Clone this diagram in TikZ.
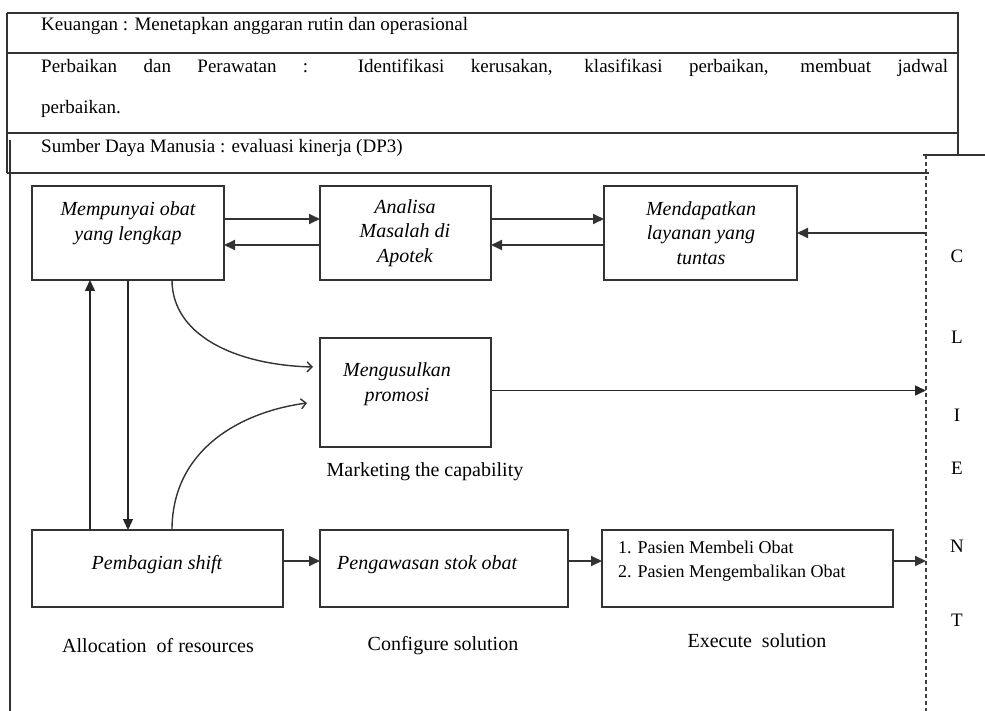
\documentclass[tikz,border=0pt]{standalone}
\usepackage{fontspec}
\setmainfont{Liberation Serif}
\usetikzlibrary{arrows.meta}

\begin{document}
\begin{tikzpicture}[x=1pt,y=-1pt,
  line/.style={draw=black!80, line width=1.8pt},
  box/.style={line, rectangle, inner sep=0pt, outer sep=0pt},
  arr/.style={line, -{Triangle[length=11pt,width=10pt]}},
  thinarr/.style={draw=black!85, line width=1.5pt, -{Triangle[length=11pt,width=10pt]}},
  curvearr/.style={draw=black!80, line width=1.4pt, -{Straight Barb[length=5pt,width=10pt]}},
  clientline/.style={draw=black!75, line width=2pt, dash pattern=on 4pt off 3pt},
  itx/.style={font=\fontsize{20}{24.5}\selectfont\itshape, inner sep=0pt, align=center},
  tx/.style={font=\fontsize{19}{23}\selectfont, inner sep=0pt},
  lbl/.style={font=\fontsize{20}{24}\selectfont, inner sep=0pt},
  lst/.style={font=\fontsize{18}{24}\selectfont, inner sep=0pt, align=left},
  letter/.style={font=\fontsize{19}{23}\selectfont, inner sep=0pt},
]
\useasboundingbox (0,0) rectangle (985,711);

% header table
\draw[line] (7,13) -- (958,13) -- (958,155);
\draw[line] (7,13) -- (7,173);
\draw[line] (7,53) -- (958,53);
\draw[line] (7,133) -- (958,133);
\draw[line] (7,173) -- (929,173);
\draw[line] (10,140) -- (10,711);
\draw[line] (923,155) -- (985,155);

\node[tx, anchor=base west] (t1) at (41,31) {Keuangan : Menetapkan anggaran rutin dan operasional};
\node[tx, anchor=base west] (t2) at (41,73) {\makebox[907pt][s]{Perbaikan dan Perawatan : Identifikasi kerusakan, klasifikasi perbaikan, membuat jadwal}};
\node[tx, anchor=base west] (t3) at (41,114) {perbaikan.};
\node[tx, anchor=base west] (t4) at (41,153) {Sumber Daya Manusia : evaluasi kinerja (DP3)};

% client boundary
\coordinate (cltop) at (926,155);
\coordinate (clbot) at (926,711);
\draw[clientline] (cltop) -- (clbot);

\node[letter] (lc) at (957,256) {C};
\node[letter] (ll) at (957,337) {L};
\node[letter] (li) at (957,415) {I};
\node[letter] (le) at (957,468) {E};
\node[letter] (ln) at (957,546) {N};
\node[letter] (lt) at (957,620) {T};

% process boxes
\node[box, minimum width=192pt, minimum height=94pt] (A) at (128,233) {};
\node[box, minimum width=171pt, minimum height=94pt] (B) at (405.5,233) {};
\node[box, minimum width=193pt, minimum height=94pt] (C) at (700.5,233) {};
\node[box, minimum width=171pt, minimum height=109pt] (D) at (405.5,392.5) {};
\node[box, minimum width=251pt, minimum height=77pt] (E) at (157.5,568.5) {};
\node[box, minimum width=248pt, minimum height=77pt] (F) at (444,568.5) {};
\node[box, minimum width=291pt, minimum height=77pt] (G) at (747.5,568.5) {};

\node[itx] (At) at (128,223) {Mempunyai obat\\yang lengkap};
\node[itx] (Bt) at (405,233) {Analisa\\Masalah di\\Apotek};
\node[itx] (Ct) at (701,233) {Mendapatkan\\layanan yang\\tuntas};
\node[itx] (Dt) at (397,384) {Mengusulkan\\promosi};
\node[itx] (Et) at (157,565) {Pembagian shift};
\node[itx, anchor=west] (Ft) at (337,565) {Pengawasan stok obat};
\node[lst, anchor=west] (Gt) at (618,561) {1. Pasien Membeli Obat\\2. Pasien Mengembalikan Obat};

% captions
\node[lbl] (cap1) at (425,472) {Marketing the capability};
\node[lbl] (cap2) at (158,646) {Allocation\ \ of resources};
\node[lbl] (cap3) at (443,646) {Configure solution};
\node[lbl] (cap4) at (757,641) {Execute\ \ solution};

% connectors, top row
\draw[arr] ([yshift=14pt]A.east) -- ([yshift=14pt]B.west);
\draw[arr] ([yshift=-12pt]B.west) -- ([yshift=-12pt]A.east);
\draw[arr] ([yshift=14pt]B.east) -- ([yshift=14pt]C.west);
\draw[arr] ([yshift=-12pt]C.west) -- ([yshift=-12pt]B.east);
\draw[arr] (cltop |- C.east) -- (C.east);

% promotion
\coordinate (dout) at ([yshift=2pt]D.east);
\draw[thinarr] (dout) -- (dout -| cltop);
\draw[curvearr] ([xshift=44pt]A.south) .. controls (172,335) and (235,365) .. ([xshift=-7pt,yshift=25.5pt]D.west);
\draw[curvearr] ([xshift=14.5pt]E.north) .. controls (172,450) and (240,412) .. ([xshift=-13pt,yshift=-10.5pt]D.west);

% vertical links
\draw[thinarr] ([xshift=-67.5pt]E.north) -- ([xshift=-38pt]A.south);
\draw[thinarr] (A.south) -- (A.south |- E.north);

% bottom row
\draw[arr] ([yshift=7.5pt]E.east) -- ([yshift=7.5pt]F.west);
\draw[arr] ([yshift=7.5pt]F.east) -- ([yshift=7.5pt]G.west);
\coordinate (gout) at ([yshift=7.5pt]G.east);
\draw[arr] (gout) -- (gout -| cltop);
\end{tikzpicture}
\end{document}
